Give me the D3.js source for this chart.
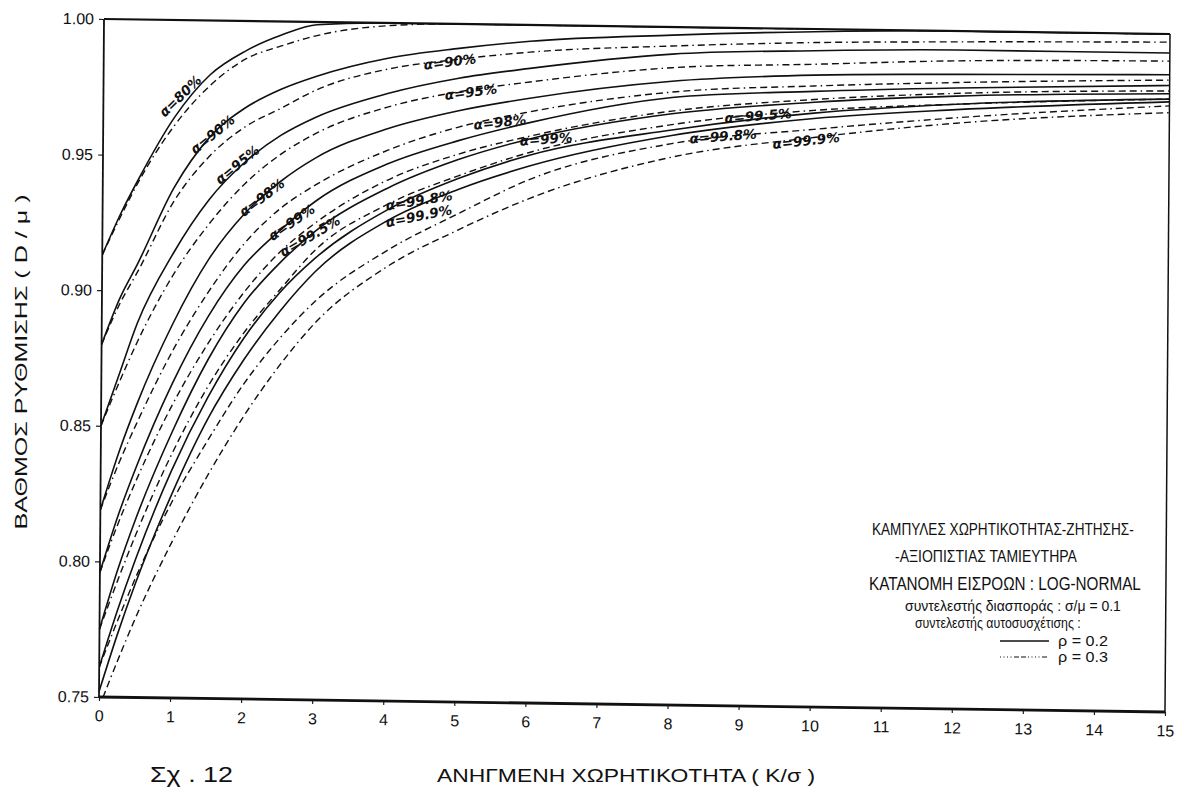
<!DOCTYPE html>
<html>
<head>
<meta charset="utf-8">
<script src="https://cdn.jsdelivr.net/npm/d3@7"></script>
<style>
body { margin: 0; background: #fff; }
text { font-family: "Liberation Sans", Arial, sans-serif; fill: #111; }
</style>
</head>
<body>
<script>
//Width and height
var w = 1184;
var h = 792;

//x values where the curves were read
var xs = [0, 0.25, 0.5, 1, 1.5, 2, 2.5, 3, 4, 5, 6, 8, 10, 12, 15];

//reliability levels
var alphas = ["80%", "90%", "95%", "98%", "99%", "99.5%", "99.8%", "99.9%"];

//rho = 0.2 (solid curves), one row per alpha
var rho02 = [
  [.913, .928, .941, .964, .980, .989, .995, .999, 1, 1, 1, 1, 1, 1, 1],
  [.880, .897, .910, .938, .957, .968, .975, .980, .987, .991, .994, .997, .999, 1, 1],
  [.850, .869, .888, .914, .934, .948, .958, .965, .974, .980, .984, .990, .992, .993, .993],
  [.819, .840, .858, .888, .912, .929, .941, .950, .961, .968, .973, .980, .983, .984, .985],
  [.796, .817, .835, .866, .891, .910, .923, .934, .948, .957, .964, .974, .977, .979, .981],
  [.775, .797, .816, .848, .875, .896, .911, .923, .939, .950, .958, .968, .973, .976, .978],
  [.761, .782, .801, .834, .861, .883, .900, .913, .931, .943, .952, .962, .969, .973, .976],
  [.752, .773, .792, .825, .853, .875, .893, .908, .927, .939, .948, .960, .967, .971, .975]
];

//rho = 0.3 (dashed curves)
var rho03 = [
  [.913, .927, .940, .961, .976, .986, .991, .995, .999, 1, 1, 1, 1, 1, 1],
  [.880, .895, .907, .933, .950, .961, .968, .975, .983, .987, .990, .993, .995, .996, .997],
  [.850, .866, .881, .906, .925, .940, .951, .959, .969, .975, .979, .985, .987, .989, .990],
  [.819, .836, .851, .878, .900, .918, .931, .940, .953, .962, .968, .976, .979, .981, .983],
  [.796, .814, .830, .858, .881, .900, .915, .926, .942, .952, .959, .969, .974, .977, .979],
  [.775, .793, .810, .840, .865, .885, .901, .916, .933, .944, .953, .964, .970, .973, .976],
  [.761, .778, .794, .822, .845, .866, .883, .897, .916, .930, .943, .957, .963, .968, .9735],
  [.746, .763, .779, .807, .832, .854, .873, .889, .910, .924, .936, .952, .960, .966, .971]
];

//curve labels (first set on solid curves, second set on dashed curves)
var labSolidX = [1.08, 1.54, 1.89, 2.24, 2.66, 2.92, 4.45, 4.45];
var labSolidY = [.972, .958, .947, .935, .926, .921, .9347, .929];
var labSolidAng = [-45, -40, -40, -38, -35, -31, -10, -12];
var labDashX = [null, 4.87, 5.17, 5.58, 6.23, 9.21, 8.72, 9.89];
var labDashY = [null, .986, .975, .964, .958, .9677, .960, .9588];
var labDashAng = [0, -8, -8, -7, -5, -5, -5, -7];

//ticks
var xTicks = d3.range(0, 16);
var yTicks = [0.75, 0.80, 0.85, 0.90, 0.95, 1.00];

//Create SVG element
var svg = d3.select("body")
            .append("svg")
            .attr("width", w)
            .attr("height", h);

//scales
var x = d3.scaleLinear().domain([0, 15]).range([101.5, 1167.5]);
var y = d3.scaleLinear().domain([0.75, 1]).range([704.5, 26.5]);

//the scanned page is slightly skewed
var g = svg.append("g")
           .attr("transform", "matrix(1,0.0141,-0.0074,1,2.7,-8.94)");

g.append("clipPath").attr("id", "plotclip")
 .append("rect")
 .attr("x", x(0)).attr("y", y(1))
 .attr("width", x(15) - x(0)).attr("height", y(0.75) - y(1));

//axes
var yAxis = d3.axisLeft(y).tickValues(yTicks).tickFormat(d3.format(".2f")).tickSize(5).tickPadding(5);
var xAxis = d3.axisBottom(x).tickValues(xTicks).tickFormat(d3.format("d")).tickSize(4).tickPadding(9);

var ya = g.append("g").attr("transform", "translate(" + x(0) + ",0)").call(yAxis);
var xa = g.append("g").attr("transform", "translate(0," + y(0.75) + ")").call(xAxis);
ya.select(".domain").remove();
xa.select(".domain").remove();
ya.selectAll("text").style("font-size", "16px").style("font-family", "Liberation Sans, Arial, sans-serif");
xa.selectAll("text").style("font-size", "16px").style("font-family", "Liberation Sans, Arial, sans-serif");
g.selectAll(".tick line").attr("stroke", "#222").attr("stroke-width", 1.2);

//frame
g.append("line").attr("x1", x(0)).attr("x2", x(15)).attr("y1", y(1)).attr("y2", y(1))
 .attr("stroke", "#111").attr("stroke-width", 2.2);
g.append("line").attr("x1", x(0)).attr("x2", x(15)).attr("y1", y(0.75)).attr("y2", y(0.75))
 .attr("stroke", "#111").attr("stroke-width", 2.8);
g.append("line").attr("x1", x(0)).attr("x2", x(0)).attr("y1", y(1)).attr("y2", y(0.75))
 .attr("stroke", "#111").attr("stroke-width", 1.8);
g.append("line").attr("x1", x(15)).attr("x2", x(15)).attr("y1", y(1)).attr("y2", y(0.75))
 .attr("stroke", "#111").attr("stroke-width", 1.5);

//line generator
var line = d3.line()
             .x(function(d, i) { return x(xs[i]); })
             .y(function(d) { return y(d); })
             .curve(d3.curveMonotoneX);

var curves = g.append("g").attr("clip-path", "url(#plotclip)");

curves.selectAll("path.dash")
      .data(rho03)
      .enter()
      .append("path")
      .attr("class", "dash")
      .attr("d", line)
      .attr("fill", "none")
      .attr("stroke", "#111")
      .attr("stroke-width", 1.4)
      .attr("stroke-dasharray", "7,4,7,4,7,4,1.5,4");

curves.selectAll("path.solid")
      .data(rho02)
      .enter()
      .append("path")
      .attr("class", "solid")
      .attr("d", line)
      .attr("fill", "none")
      .attr("stroke", "#111")
      .attr("stroke-width", 1.6);

//curve labels
function addLabel(lx, ly, ang, txt) {
    g.append("text")
     .attr("transform", "translate(" + x(lx) + "," + y(ly) + ") rotate(" + ang + ")")
     .attr("text-anchor", "middle")
     .attr("dy", "0.35em")
     .style("font-family", "DejaVu Sans, sans-serif")
     .style("font-weight", "bold")
     .style("font-style", "italic")
     .style("font-size", "13.5px")
     .text("α=" + txt);
}
for (var i = 0; i < alphas.length; i++) {
    addLabel(labSolidX[i], labSolidY[i], labSolidAng[i], alphas[i]);
    if (labDashX[i] !== null) {
        addLabel(labDashX[i], labDashY[i], labDashAng[i], alphas[i]);
    }
}

//squeeze a text horizontally so it spans the wanted width
function fitText(sel, tx, ty, len) {
    var nat = sel.node().getComputedTextLength();
    sel.attr("transform", "translate(" + tx + "," + ty + ") scale(" + (len / nat) + ",1)");
}

//legend / description block
var info = [
    {t: "ΚΑΜΠΥΛΕΣ ΧΩΡΗΤΙΚΟΤΗΤΑΣ-ΖΗΤΗΣΗΣ-", x: 872, y: 535, len: 262, fs: 17},
    {t: "-ΑΞΙΟΠΙΣΤΙΑΣ ΤΑΜΙΕΥΤΗΡΑ", x: 895, y: 562, len: 182, fs: 17},
    {t: "ΚΑΤΑΝΟΜΗ ΕΙΣΡΟΩΝ : LOG-NORMAL", x: 869, y: 590, len: 272, fs: 19},
    {t: "συντελεστής διασποράς : σ/μ = 0.1", x: 905, y: 611, len: 216, fs: 14},
    {t: "συντελεστής αυτοσυσχέτισης :", x: 915, y: 628, len: 166, fs: 14},
    {t: "ρ = 0.2", x: 1058, y: 646, len: 50, fs: 14},
    {t: "ρ = 0.3", x: 1058, y: 662, len: 50, fs: 14}
];
info.forEach(function(d) {
    var t = svg.append("text")
               .style("font-size", d.fs + "px")
               .text(d.t);
    fitText(t, d.x, d.y, d.len);
});

svg.append("line").attr("x1", 1000).attr("x2", 1049).attr("y1", 641).attr("y2", 641)
   .attr("stroke", "#111").attr("stroke-width", 1.3);
svg.append("line").attr("x1", 1000).attr("x2", 1049).attr("y1", 657).attr("y2", 657)
   .attr("stroke", "#111").attr("stroke-width", 1.1)
   .attr("stroke-dasharray", "1,2.5,1,2.5,1,2.5,1,2.5,5,2,5,2");

//axis titles
svg.append("text")
   .attr("transform", "translate(27,362) rotate(-90)")
   .attr("text-anchor", "middle")
   .attr("textLength", 335)
   .attr("lengthAdjust", "spacingAndGlyphs")
   .style("font-size", "17px")
   .text("ΒΑΘΜΟΣ ΡΥΘΜΙΣΗΣ ( D / μ )");

svg.append("text")
   .attr("x", 437).attr("y", 782)
   .attr("textLength", 378)
   .attr("lengthAdjust", "spacingAndGlyphs")
   .style("font-size", "18px")
   .text("ΑΝΗΓΜΕΝΗ ΧΩΡΗΤΙΚΟΤΗΤΑ ( Κ/σ )");

svg.append("text")
   .attr("x", 150).attr("y", 782)
   .attr("textLength", 83)
   .attr("lengthAdjust", "spacingAndGlyphs")
   .style("font-size", "22px")
   .text("Σχ . 12");
</script>
</body>
</html>
